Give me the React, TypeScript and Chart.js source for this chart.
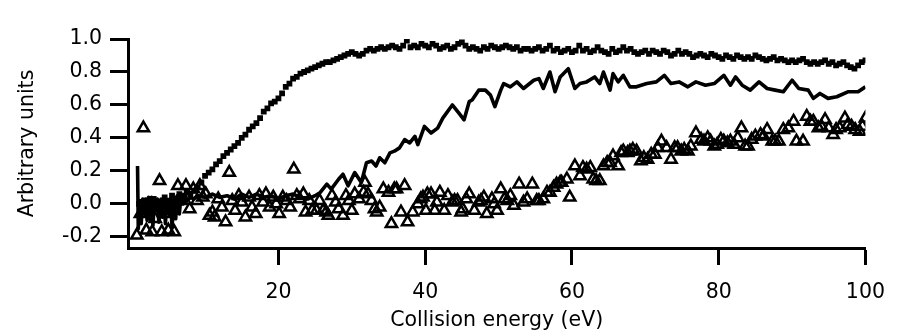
import React, { useEffect, useRef } from "react";
import { Chart, registerables } from "chart.js";

Chart.register(...registerables);

// ---- Data ----
// Filled squares: sampled every 0.5 eV from 1 eV to 100 eV
const squareStartEnergy = 1;
const squareEnergyStep = 0.5;
const squareValues = [
  0.00, -0.04, 0.02, -0.06, 0.03, 0.01, -0.03, 0.04, 0.02, 0.05,
  0.03, 0.06, 0.05, 0.07, 0.06, 0.08, 0.10, 0.13, 0.17, 0.19,
  0.21, 0.24, 0.26, 0.29, 0.31, 0.33, 0.35, 0.37, 0.40, 0.42,
  0.45, 0.47, 0.49, 0.52, 0.56, 0.58, 0.61, 0.62, 0.64, 0.67,
  0.71, 0.73, 0.76, 0.77, 0.79, 0.80, 0.81, 0.82, 0.83, 0.84,
  0.85, 0.86, 0.86, 0.87, 0.88, 0.89, 0.90, 0.91, 0.92, 0.91,
  0.90, 0.91, 0.93, 0.94, 0.93, 0.94, 0.95, 0.94, 0.95, 0.96,
  0.95, 0.94, 0.96, 0.99, 0.95, 0.96, 0.95, 0.97, 0.96, 0.95,
  0.97, 0.96, 0.94, 0.95, 0.96, 0.94, 0.95, 0.97, 0.98, 0.96,
  0.94, 0.95, 0.94, 0.93, 0.95, 0.94, 0.96, 0.95, 0.94, 0.95,
  0.96, 0.95, 0.94, 0.95, 0.93, 0.94, 0.94, 0.93, 0.94, 0.95,
  0.93, 0.94, 0.96, 0.93, 0.94, 0.92, 0.93, 0.94, 0.92, 0.93,
  0.96, 0.93, 0.94, 0.92, 0.93, 0.95, 0.93, 0.92, 0.91, 0.94,
  0.92, 0.93, 0.95, 0.93, 0.94, 0.92, 0.91, 0.92, 0.93, 0.91,
  0.93, 0.92, 0.91, 0.93, 0.92, 0.90, 0.91, 0.93, 0.91, 0.92,
  0.91, 0.89, 0.90, 0.91, 0.90, 0.89, 0.91, 0.90, 0.89, 0.88,
  0.90, 0.89, 0.88, 0.90, 0.89, 0.88, 0.89, 0.88, 0.90, 0.89,
  0.88, 0.87, 0.88, 0.89, 0.87, 0.88, 0.87, 0.86, 0.87, 0.86,
  0.87, 0.88, 0.86, 0.85, 0.86, 0.85, 0.86, 0.87, 0.85, 0.86,
  0.84, 0.85, 0.86, 0.84, 0.83, 0.82, 0.84, 0.86, 0.87,
];

// Solid line
const lineEnergies = [
  0.8, 0.9, 1.1, 1.3, 1.5, 1.7, 1.9, 2.1, 2.3, 2.5, 2.7, 2.9, 3.1, 3.3, 3.5, 3.7, 4.0, 4.2, 4.4, 4.6,
  4.8, 5.0, 5.3, 5.5, 5.8, 6.0, 6.2, 6.5, 6.7, 7.0, 7.3, 7.6, 8.0, 8.5, 9.0,
  10, 11, 12, 13, 14, 15, 16, 17, 18, 19, 20, 21, 22, 23, 24, 25,
  25.7, 26.6, 27.2, 28.2, 28.8, 29.5, 30.4, 31.3, 32.0, 32.7, 33.3, 33.8, 34.5, 35.2, 35.8,
  36.5, 37.2, 37.9, 38.6, 39.0, 39.9, 40.8, 41.7, 42.4, 43.7, 44.6, 45.3, 46.0, 46.4, 47.3,
  48.2, 48.9, 49.5, 50.3, 50.7, 51.6, 52.5, 53.4, 54.8, 55.5, 56.1, 57.0, 57.7, 58.4, 59.5,
  60.4, 61.1, 62.0, 63.1, 63.8, 64.3, 65.2, 65.6, 66.3, 67.0, 67.9, 68.8, 70.2, 71.5, 72.6,
  73.5, 74.6, 75.8, 76.9, 78.2, 79.4, 80.7, 81.6, 82.3, 83.2, 84.3, 85.5, 86.6, 87.7, 88.8,
  90.0, 90.9, 92.2, 92.9, 93.8, 94.9, 96.1, 97.6, 99.0, 100,
];
const lineValues = [
  0.23, -0.15, 0.02, -0.12, 0.03, -0.06, 0.03, -0.10, 0.04, -0.09, 0.04, -0.13, 0.02, -0.04, 0.03, -0.11, 0.03, -0.08, 0.04, -0.12,
  0.02, -0.05, 0.03, -0.14, 0.04, -0.09, 0.05, -0.06, 0.04, 0.00, 0.05, 0.02, 0.04, 0.03, 0.05,
  0.04, 0.06, 0.04, 0.05, 0.03, 0.06, 0.04, 0.06, 0.04, 0.05, 0.03, 0.05, 0.06, 0.04, 0.03, 0.05,
  0.07, 0.12, 0.09, 0.15, 0.18, 0.11, 0.19, 0.13, 0.25, 0.26, 0.23, 0.28, 0.25, 0.31, 0.32,
  0.34, 0.39, 0.37, 0.41, 0.36, 0.47, 0.43, 0.46, 0.52, 0.60, 0.55, 0.51, 0.62, 0.63, 0.69,
  0.69, 0.66, 0.59, 0.69, 0.73, 0.71, 0.74, 0.70, 0.75, 0.76, 0.70, 0.80, 0.68, 0.77, 0.82,
  0.70, 0.73, 0.74, 0.77, 0.73, 0.80, 0.69, 0.79, 0.74, 0.78, 0.71, 0.71, 0.73, 0.74, 0.78,
  0.73, 0.74, 0.71, 0.74, 0.72, 0.73, 0.78, 0.72, 0.77, 0.72, 0.69, 0.74, 0.70, 0.69, 0.68,
  0.75, 0.70, 0.69, 0.64, 0.67, 0.64, 0.65, 0.68, 0.68, 0.71,
];

// Open triangles
const triangleEnergies = [
  0.7, 1.2, 1.6, 2.0, 2.4, 2.8, 3.2, 3.8, 4.1, 4.5, 5.0, 5.5, 5.8, 6.3, 6.8, 7.4, 7.9, 8.4, 8.9, 9.3,
  9.7, 10.1, 10.6, 11.0, 11.3, 11.8, 12.3, 12.8, 13.3, 13.7, 14.1, 14.6, 15.0, 15.5, 16.0, 16.4, 16.9, 17.4, 17.9, 18.3,
  18.8, 19.3, 19.7, 20.1, 20.6, 21.1, 21.6, 22.1, 22.5, 22.9, 23.4, 23.7, 24.2, 24.6, 25.2, 25.6, 26.1, 26.5, 26.8, 27.3,
  27.8, 28.2, 28.8, 29.2, 29.6, 30.0, 30.4, 31.0, 31.6, 31.8, 32.2, 32.7, 33.1, 33.4, 33.8, 34.3, 35.0, 35.4, 35.8, 36.1,
  36.7, 37.2, 37.6, 38.3, 39.0, 39.4, 39.7, 40.1, 40.3, 40.8, 41.3, 41.6, 42.0, 42.6, 43.1, 43.7, 44.0, 44.4, 44.9, 45.1,
  45.6, 46.0, 46.7, 47.3, 47.6, 48.0, 48.4, 49.1, 49.4, 49.8, 50.3, 50.8, 51.2, 51.6, 52.1, 52.8, 53.4, 53.9, 54.6, 55.2,
  55.5, 56.1, 56.6, 57.0, 57.5, 57.9, 58.4, 58.6, 59.3, 59.7, 60.4, 61.1, 61.5, 62.0, 62.5, 62.9, 63.3, 63.8, 64.3, 64.8,
  65.2, 65.6, 66.3, 66.7, 67.0, 67.6, 67.9, 68.3, 68.8, 69.4, 69.8, 70.3, 70.8, 71.3, 71.7, 72.2, 72.9, 73.5, 74.0, 74.4,
  74.9, 75.3, 75.8, 76.2, 76.9, 77.6, 78.0, 78.5, 78.9, 79.4, 79.8, 80.3, 80.7, 81.2, 81.6, 82.1, 82.6, 83.1, 83.6, 84.0,
  84.5, 85.0, 85.7, 86.1, 86.6, 87.3, 87.7, 88.2, 88.8, 89.5, 90.2, 90.6, 91.5, 92.0, 92.5, 92.9, 93.6, 94.0, 94.5, 95.0,
  95.6, 96.0, 96.5, 97.2, 97.6, 98.1, 98.6, 99.2, 99.6, 100,
];
const triangleValues = [
  -0.19, -0.06, 0.46, -0.16, -0.02, -0.17, -0.09, 0.14, -0.17, -0.06, -0.16, -0.04, -0.17, 0.11, 0.02, 0.11, -0.03, 0.09, 0.02, 0.11,
  0.04, 0.06, -0.07, -0.05, -0.08, 0.03, -0.02, -0.11, 0.19, 0.02, -0.04, 0.05, 0.01, -0.08, 0.04, -0.02, -0.06, 0.05, 0.01, 0.06,
  -0.02, 0.04, 0.00, -0.06, 0.04, 0.02, -0.02, 0.21, 0.05, 0.03, 0.06, -0.05, 0.02, -0.04, -0.04, 0.02, -0.04, -0.05, -0.07, 0.05,
  0.01, -0.03, -0.07, 0.05, 0.02, -0.04, 0.06, 0.03, 0.07, 0.13, 0.06, 0.02, -0.03, -0.05, -0.02, 0.09, 0.07, -0.12, 0.09, 0.09,
  -0.05, 0.11, -0.11, -0.05, 0.00, 0.03, 0.04, -0.04, 0.06, 0.06, -0.04, 0.01, 0.07, -0.04, 0.05, 0.01, 0.02, 0.02, -0.05, -0.03,
  0.03, 0.06, -0.04, 0.01, 0.02, 0.04, -0.06, 0.03, 0.00, -0.04, 0.09, 0.03, 0.02, 0.05, -0.01, 0.12, 0.01, 0.03, 0.12, 0.02,
  0.02, 0.03, 0.07, 0.07, 0.10, 0.12, 0.13, 0.13, 0.15, 0.04, 0.23, 0.17, 0.22, 0.21, 0.22, 0.15, 0.14, 0.14, 0.23, 0.25,
  0.25, 0.29, 0.23, 0.31, 0.32, 0.31, 0.32, 0.33, 0.32, 0.26, 0.28, 0.27, 0.30, 0.30, 0.34, 0.38, 0.34, 0.27, 0.34, 0.34,
  0.32, 0.33, 0.32, 0.35, 0.43, 0.39, 0.38, 0.40, 0.38, 0.35, 0.36, 0.39, 0.38, 0.37, 0.38, 0.36, 0.40, 0.46, 0.35, 0.35,
  0.39, 0.41, 0.42, 0.41, 0.45, 0.38, 0.38, 0.38, 0.45, 0.46, 0.50, 0.38, 0.38, 0.53, 0.50, 0.50, 0.46, 0.47, 0.51, 0.46,
  0.42, 0.45, 0.46, 0.52, 0.48, 0.47, 0.45, 0.44, 0.47, 0.52,
];

const xTickValues = [20, 40, 60, 80, 100];
const yTickValues = [-0.2, 0.0, 0.2, 0.4, 0.6, 0.8, 1.0];
const xAxisTitle = "Collision energy (eV)";
const yAxisTitle = "Arbitrary units";

const FONT = "'DejaVu Sans', 'Liberation Sans', sans-serif";
const INK = "#000";

export default function App() {
  const canvasRef = useRef<HTMLCanvasElement | null>(null);

  useEffect(() => {
    const canvas = canvasRef.current;
    if (!canvas) return;

    const squares = squareValues.map((v, i) => ({
      x: squareStartEnergy + i * squareEnergyStep,
      y: v,
    }));
    const line = lineEnergies.map((e, i) => ({ x: e, y: lineValues[i] }));
    const triangles = triangleEnergies.map((e, i) => ({ x: e, y: triangleValues[i] }));

    const chart = new Chart(canvas, {
      type: "scatter",
      data: {
        datasets: [
          {
            label: "squares",
            data: squares,
            pointStyle: "rect",
            pointRadius: 4.1,
            pointBackgroundColor: "#000",
            pointBorderWidth: 0,
            showLine: false,
          },
          {
            label: "line",
            data: line,
            showLine: true,
            borderColor: "#000",
            borderWidth: 3.6,
            borderJoinStyle: "round",
            pointRadius: 0,
            tension: 0,
            fill: false,
          },
          {
            label: "triangles",
            data: triangles,
            pointStyle: "triangle",
            pointRadius: 6.5,
            pointBackgroundColor: "rgba(0,0,0,0)",
            pointBorderColor: "#000",
            pointBorderWidth: 2.5,
            showLine: false,
          },
        ],
      },
      options: {
        animation: false,
        responsive: false,
        events: [],
        layout: { padding: { left: 0, right: 29, top: 39, bottom: 0 } },
        plugins: {
          legend: { display: false },
          tooltip: { enabled: false },
        },
        scales: {
          x: {
            type: "linear",
            min: -0.5,
            max: 100,
            afterFit: (scale: any) => {
              scale.height = 86;
            },
            afterBuildTicks: (scale: any) => {
              scale.ticks = xTickValues.map((v) => ({ value: v }));
            },
            border: { display: true, width: 3, color: "#000" },
            grid: {
              display: true,
              drawOnChartArea: false,
              drawTicks: true,
              tickLength: 17,
              tickWidth: 3,
              tickColor: "#000",
              color: "#000",
            },
            ticks: {
              autoSkip: false,
              maxRotation: 0,
              padding: 15,
              color: INK,
              font: { family: FONT, size: 20.5 },
              callback: (v: any) => String(v),
            },
            title: {
              display: true,
              text: xAxisTitle,
              color: INK,
              font: { family: FONT, size: 20.5 },
              padding: { top: 0, bottom: 1 },
            },
          },
          y: {
            type: "linear",
            min: -0.267,
            max: 1.0,
            afterFit: (scale: any) => {
              scale.width = 128;
            },
            afterBuildTicks: (scale: any) => {
              scale.ticks = yTickValues.map((v) => ({ value: v }));
            },
            border: { display: true, width: 3, color: "#000" },
            grid: {
              display: true,
              drawOnChartArea: false,
              drawTicks: true,
              tickLength: 18,
              tickWidth: 3,
              tickColor: "#000",
              color: "#000",
            },
            ticks: {
              autoSkip: false,
              padding: 8,
              color: INK,
              font: { family: FONT, size: 20.5 },
              callback: (v: any) => Number(v).toFixed(1),
            },
            title: {
              display: true,
              text: yAxisTitle,
              color: INK,
              font: { family: FONT, size: 20.5 },
              padding: { top: 15, bottom: 0 },
            },
          },
        },
      },
    });

    return () => {
      chart.destroy();
    };
  }, []);

  return (
    <div style={{ position: "fixed", left: 0, top: 0, width: 900, height: 334, background: "#fff" }}>
      <canvas ref={canvasRef} width={900} height={334} style={{ display: "block" }} />
    </div>
  );
}
